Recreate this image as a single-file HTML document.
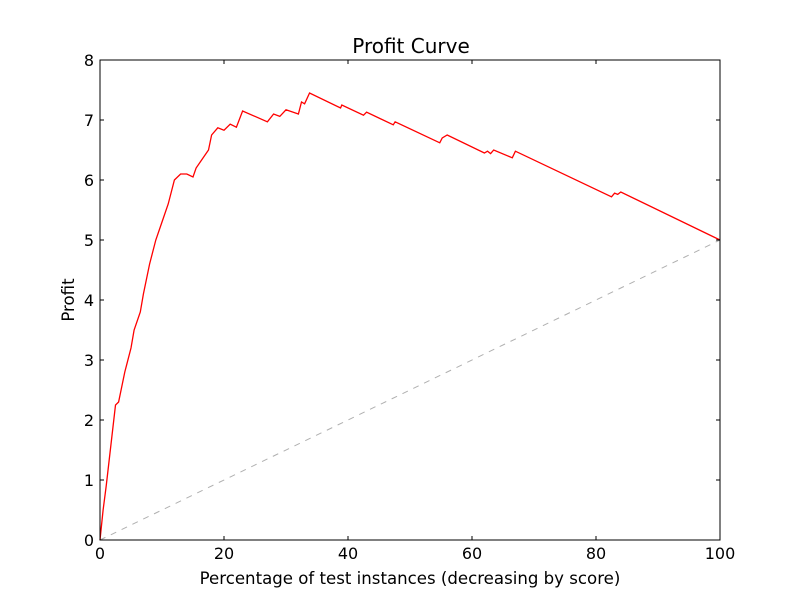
<!DOCTYPE html>
<html><head><meta charset="utf-8"><style>
body{margin:0;background:#fff;}
text{font-family:"DejaVu Sans","Liberation Sans",sans-serif;}
</style></head><body>
<svg id="chart" width="800" height="600" xmlns="http://www.w3.org/2000/svg">
<rect x="0" y="0" width="800" height="600" fill="#fff"/>
<g id="plot"></g>
</svg>
<script>
const xVals=[0,0.5,1,2,2.5,3,4,5,5.5,6.5,7,8,9,10,11,12,13,14,15,15.5,16.5,17.5,18,19,20,21,22,23,27,28,29,30,32,32.5,33,33.8,38.8,39,42.5,43,47.3,47.6,54.8,55.2,56,62,62.5,63,63.5,66.5,67,82.5,83,83.5,84,100];
const profitVals=[0,0.5,0.9,1.8,2.25,2.3,2.8,3.2,3.5,3.8,4.1,4.6,5.0,5.3,5.6,6.0,6.1,6.1,6.05,6.2,6.35,6.5,6.75,6.87,6.83,6.93,6.88,7.15,6.97,7.1,7.06,7.17,7.1,7.3,7.27,7.45,7.2,7.25,7.08,7.13,6.92,6.97,6.62,6.7,6.75,6.45,6.48,6.44,6.5,6.37,6.48,5.72,5.78,5.76,5.8,5.0];
const baselineX=[0,100];
const baselineY=[0,5];
const xTicks=[0,20,40,60,80,100];
const yTicks=[0,1,2,3,4,5,6,7,8];
const L=100,R=720,T=60,B=540;
const sx=v=>L+(v-0)/(100-0)*(R-L);
const sy=v=>B-(v-0)/(8-0)*(B-T);
const NS="http://www.w3.org/2000/svg";
const g=document.getElementById('plot');
function mk(tag,attrs){const e=document.createElementNS(NS,tag);for(const k in attrs)e.setAttribute(k,attrs[k]);g.appendChild(e);return e;}
let e=mk('polyline',{points:baselineX.map((x,i)=>sx(x)+','+sy(baselineY[i])).join(' '),fill:'none',stroke:'#b0b0b0','stroke-width':1,'stroke-dasharray':'6,6'});


e=mk('polyline',{points:xVals.map((x,i)=>sx(x)+','+sy(profitVals[i])).join(' '),fill:'none',stroke:'#ff0000','stroke-width':1.3});


e=mk('rect',{x:L,y:T,width:R-L,height:B-T,fill:'none',stroke:'#000','stroke-width':1});


xTicks.forEach(t=>{
  mk('line',{x1:sx(t),x2:sx(t),y1:B,y2:B-4,stroke:'#000'});
  mk('line',{x1:sx(t),x2:sx(t),y1:T,y2:T+4,stroke:'#000'});
  const tx=mk('text',{x:sx(t),y:B+19,'text-anchor':'middle','font-size':16});
  tx.textContent=t;
  
  
});
yTicks.forEach(t=>{
  mk('line',{x1:L,x2:L+4,y1:sy(t),y2:sy(t),stroke:'#000'});
  mk('line',{x1:R,x2:R-4,y1:sy(t),y2:sy(t),stroke:'#000'});
  const tx=mk('text',{x:L-6,y:sy(t)+6,'text-anchor':'end','font-size':16});
  tx.textContent=t;
  
  
});
e=mk('text',{x:411,y:53,'text-anchor':'middle','font-size':20});
e.textContent='Profit Curve';


e=mk('text',{x:410,y:584,'text-anchor':'middle','font-size':16.6});
e.textContent='Percentage of test instances (decreasing by score)';


e=mk('text',{x:74,y:300,'text-anchor':'middle','font-size':16.6,transform:'rotate(-90 74 300)'});
e.textContent='Profit';


</script>
</body></html>
